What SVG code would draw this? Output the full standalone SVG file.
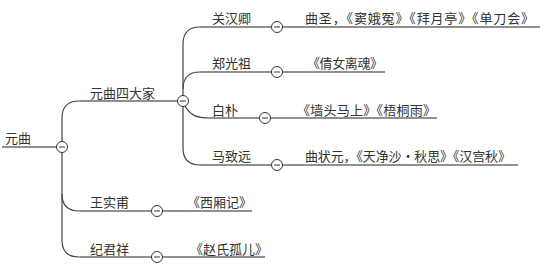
<svg xmlns="http://www.w3.org/2000/svg" width="548" height="269" viewBox="0 0 548 269">
<style>
text{font-family:"Noto Sans CJK SC","Noto Sans",sans-serif;font-size:13px;fill:#333}
.u{stroke:#222;stroke-width:1.2;fill:none}
.c{stroke:#444;stroke-width:1.2;fill:none}
.k{fill:#fff;stroke:#333;stroke-width:1}
.m{stroke:#333;stroke-width:1}
</style>
<defs>
<g id="tog"><circle class="k" cx="0" cy="0" r="5.5"/><line class="m" x1="-3" y1="0" x2="3" y2="0"/></g>
</defs>
<rect width="548" height="269" fill="#fff"/>
<g id="connectors">
<path class="c" d="M62,141.5 V118 Q62,101 79,101 H80"/>
<path class="c" d="M62,152.5 V194 Q62,211 79,211 H80"/>
<path class="c" d="M62,194 V240 Q62,257 79,257 H80"/>
<path class="c" d="M183,95.5 V44 Q183,27 200,27"/>
<path class="c" d="M183,89 Q183,72 200,72"/>
<path class="c" d="M185,106 C190,115 196,118 210,118"/>
<path class="c" d="M183,106.5 V148 Q183,165 200,165"/>
<path class="c" d="M282.5,27 H305"/>
<path class="c" d="M282.5,72 H306"/>
<path class="c" d="M270.5,118 H295"/>
<path class="c" d="M282.5,165 H305"/>
<path class="c" d="M162.5,211 H188"/>
<path class="c" d="M162.5,257 H190"/>
</g>
<g id="root">
<text x="5" y="142.5">元曲</text>
<line class="u" x1="2" y1="147" x2="56.5" y2="147"/>
<use href="#tog" x="62" y="147"/>
</g>
<g id="n-sidajia">
<text x="90" y="97.5">元曲四大家</text>
<line class="u" x1="80" y1="101" x2="177.5" y2="101"/>
<use href="#tog" x="183" y="101"/>
</g>
<g id="n-guanhanqing">
<text x="212" y="22.5">关汉卿</text>
<line class="u" x1="200" y1="27" x2="271.5" y2="27"/>
<use href="#tog" x="277" y="27"/>
</g>
<g id="n-zhengguangzu">
<text x="212" y="68">郑光祖</text>
<line class="u" x1="200" y1="72" x2="271.5" y2="72"/>
<use href="#tog" x="277" y="72"/>
</g>
<g id="n-baipu">
<text x="212" y="114.5">白朴</text>
<line class="u" x1="210" y1="118" x2="259.5" y2="118"/>
<use href="#tog" x="265" y="118"/>
</g>
<g id="n-mazhiyuan">
<text x="212" y="161">马致远</text>
<line class="u" x1="200" y1="165" x2="271.5" y2="165"/>
<use href="#tog" x="277" y="165"/>
</g>
<g id="n-wangshifu">
<text x="90" y="207">王实甫</text>
<line class="u" x1="80" y1="211" x2="151.5" y2="211"/>
<use href="#tog" x="157" y="211"/>
</g>
<g id="n-jijunxiang">
<text x="90" y="253.5">纪君祥</text>
<line class="u" x1="80" y1="257" x2="151.5" y2="257"/>
<use href="#tog" x="157" y="257"/>
</g>
<g id="l-guan">
<text x="305" y="22.5" textLength="229" lengthAdjust="spacing">曲圣，《窦娥冤》《拜月亭》《单刀会》</text>
<line class="u" x1="305" y1="27" x2="540" y2="27"/>
</g>
<g id="l-zheng">
<text x="307" y="68" textLength="76" lengthAdjust="spacing">《倩女离魂》</text>
<line class="u" x1="306" y1="72" x2="385" y2="72"/>
</g>
<g id="l-bai">
<text x="297" y="114.5" textLength="139" lengthAdjust="spacing">《墙头马上》《梧桐雨》</text>
<line class="u" x1="295" y1="118" x2="437" y2="118"/>
</g>
<g id="l-ma">
<text x="305" y="161" textLength="206" lengthAdjust="spacing">曲状元，《天净沙·秋思》《汉宫秋》</text>
<line class="u" x1="305" y1="165" x2="518" y2="165"/>
</g>
<g id="l-wang">
<text x="187" y="207">《西厢记》</text>
<line class="u" x1="188" y1="211" x2="252" y2="211"/>
</g>
<g id="l-ji">
<text x="190" y="253.5">《赵氏孤儿》</text>
<line class="u" x1="190" y1="257" x2="265" y2="257"/>
</g>
</svg>
